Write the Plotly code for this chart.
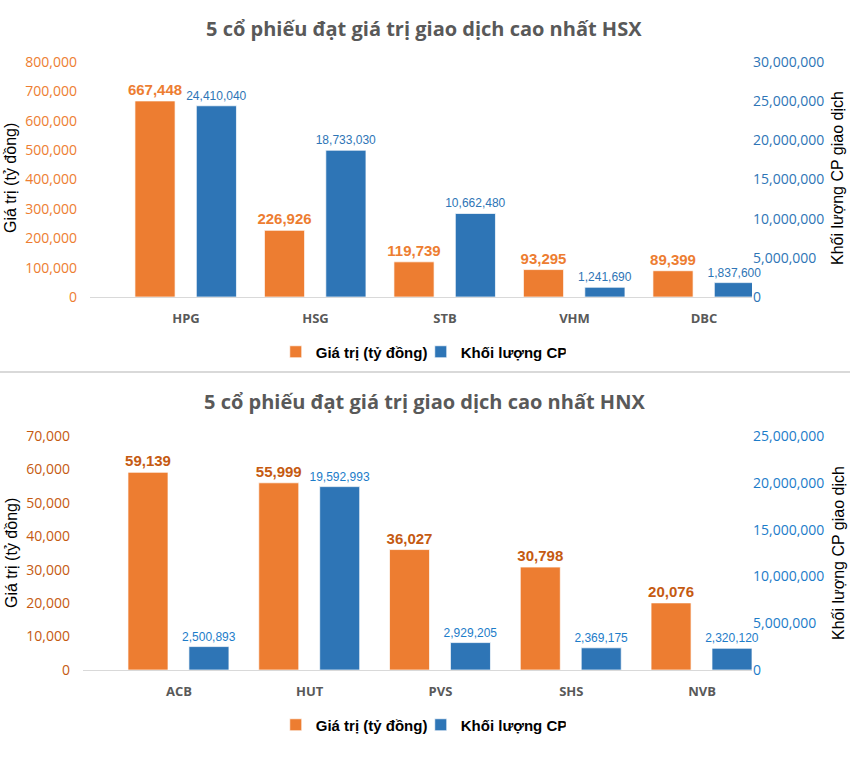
import plotly.graph_objects as go

# ---------------- data ----------------
hsx_codes = ["HPG", "HSG", "STB", "VHM", "DBC"]
hsx_value = [667448, 226926, 119739, 93295, 89399]
hsx_volume = [24410040, 18733030, 10662480, 1241690, 1837600]

hnx_codes = ["ACB", "HUT", "PVS", "SHS", "NVB"]
hnx_value = [59139, 55999, 36027, 30798, 20076]
hnx_volume = [2500893, 19592993, 2929205, 2369175, 2320120]

title_hsx = "5 cổ phiếu đạt giá trị giao dịch cao nhất HSX"
title_hnx = "5 cổ phiếu đạt giá trị giao dịch cao nhất HNX"
name_value = "Giá trị (tỷ đồng)"
name_volume = "Khối lượng CP"
ytitle_left = "Giá trị (tỷ đồng)"
ytitle_right = "Khối lượng CP giao dịch"

# ---------------- style ----------------
W, H = 850, 772
def px(x):
    return x / W
def py(y):
    return 1 - y / H

ORANGE = "#ED7D31"
BLUE = "#2E75B6"
ORANGE_DARK = "#C55A11"
BLUE_BRIGHT = "#1C7CC9"
GRAY = "#595959"
NUM_FONT = "Open Sans, Segoe UI, sans-serif"
NARROW = "Liberation Sans Narrow, Arial Narrow, sans-serif"
ARIAL = "Liberation Sans, Arial, sans-serif"

fig = go.Figure()

def add_pair(codes, vals, vols, xa, ya_l, ya_r, leg, olab, blab, bw, off_o, off_b):
    fig.add_trace(go.Bar(
        x=codes, y=vals, name=name_value, xaxis=xa, yaxis=ya_l, legend=leg,
        marker=dict(color=ORANGE, line=dict(color="rgba(255,255,255,0.7)", width=1)),
        width=bw, offset=off_o,
        texttemplate="%{y:,}", textposition="outside", constraintext="none",
        cliponaxis=False,
        textfont=dict(family=NARROW, size=15, color=olab, weight="bold"),
    ))
    fig.add_trace(go.Bar(
        x=codes, y=vols, name=name_volume, xaxis=xa, yaxis=ya_r, legend=leg,
        marker=dict(color=BLUE, line=dict(color="rgba(255,255,255,0.7)", width=1)),
        width=bw, offset=off_b,
        texttemplate="%{y:,}", textposition="outside", constraintext="none",
        cliponaxis=False,
        textfont=dict(family=NARROW, size=12, color=blab),
    ))

add_pair(hsx_codes, hsx_value, hsx_volume, "x", "y", "y2", "legend",
         ORANGE, BLUE, 0.31, -0.394, 0.08)
add_pair(hnx_codes, hnx_value, hnx_volume, "x2", "y3", "y4", "legend2",
         ORANGE_DARK, BLUE_BRIGHT, 0.306, -0.39, 0.076)

xcommon = dict(type="category", showline=True, linecolor="#D9D9D9", linewidth=1,
               ticks="", showgrid=False, zeroline=False, ticklabelstandoff=9,
               automargin=False,
               tickfont=dict(family=NUM_FONT, size=13, color=GRAY, weight="bold"))
ycommon = dict(showgrid=False, zeroline=False, showline=False, ticks="",
               tickformat=",", automargin=False)

fig.update_layout(
    template="none",
    width=W, height=H, autosize=False,
    margin=dict(l=0, r=0, t=0, b=0, pad=0, autoexpand=False),
    paper_bgcolor="white", plot_bgcolor="white",
    barmode="overlay",
    xaxis=dict(domain=[px(90), px(752)], anchor="y",
               range=[-0.741, 4.371], **xcommon),
    yaxis=dict(domain=[py(297), py(62)], anchor="x", range=[0, 800000], dtick=100000,
               ticklabelstandoff=12,
               tickfont=dict(family=NUM_FONT, size=14, color=ORANGE), **ycommon),
    yaxis2=dict(overlaying="y", side="right", anchor="x", range=[0, 30000000],
                dtick=5000000, ticklabelstandoff=0,
                tickfont=dict(family=NUM_FONT, size=14, color=BLUE), **ycommon),
    xaxis2=dict(domain=[px(83), px(752)], anchor="y3",
                range=[-0.734, 4.382], **xcommon),
    yaxis3=dict(domain=[py(670), py(436)], anchor="x2", range=[0, 70000], dtick=10000,
                ticklabelstandoff=12,
                tickfont=dict(family=NUM_FONT, size=14, color=ORANGE_DARK), **ycommon),
    yaxis4=dict(overlaying="y3", side="right", anchor="x2", range=[0, 25000000],
                dtick=5000000, ticklabelstandoff=0,
                tickfont=dict(family=NUM_FONT, size=14, color=BLUE_BRIGHT), **ycommon),
    legend=dict(orientation="h", x=0.495, xanchor="center", y=py(352), yanchor="middle",
                font=dict(family=ARIAL, size=15, color="#000000", weight="bold"),
                entrywidth=100, traceorder="normal", bgcolor="rgba(0,0,0,0)"),
    legend2=dict(orientation="h", x=0.495, xanchor="center", y=py(725), yanchor="middle",
                 font=dict(family=ARIAL, size=15, color="#000000", weight="bold"),
                 entrywidth=100, traceorder="normal", bgcolor="rgba(0,0,0,0)"),
    shapes=[dict(type="line", xref="paper", yref="paper", x0=0, x1=1,
                 y0=py(372), y1=py(372), line=dict(color="#D9D9D9", width=2))],
)

ann = []
for t, yc in [(title_hsx, 28), (title_hnx, 402)]:
    ann.append(dict(text=t, x=px(424), y=py(yc), xref="paper", yref="paper",
                    showarrow=False, xanchor="center", yanchor="middle",
                    font=dict(family=NUM_FONT, size=20, color=GRAY, weight="bold")))
for yc in [178, 553]:
    ann.append(dict(text=ytitle_left, x=px(11), y=py(yc), xref="paper", yref="paper",
                    showarrow=False, textangle=-90, xanchor="center", yanchor="middle",
                    font=dict(family=ARIAL, size=16, color="#000000")))
    ann.append(dict(text=ytitle_right, x=px(838), y=py(yc), xref="paper", yref="paper",
                    showarrow=False, textangle=-90, xanchor="center", yanchor="middle",
                    font=dict(family=ARIAL, size=16, color="#000000")))
fig.update_layout(annotations=ann)

fig.write_html(
    "out.html",
    config={"displayModeBar": False},
    post_script="document.body.style.margin='0';document.body.style.overflow='hidden';",
)
